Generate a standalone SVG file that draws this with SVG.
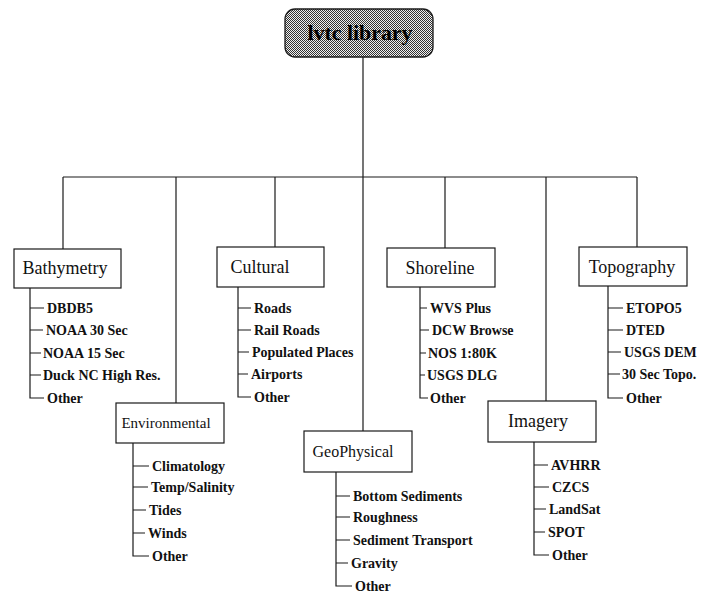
<svg xmlns="http://www.w3.org/2000/svg" width="701" height="593" viewBox="0 0 701 593">
<defs>
<pattern id="dots" x="0" y="0" width="2" height="2" patternUnits="userSpaceOnUse">
<rect width="2" height="2" fill="#f0f0f0"/>
<rect x="0" y="0" width="1" height="1" fill="#333"/>
<rect x="1" y="1" width="1" height="1" fill="#333"/>
</pattern>
</defs>
<style>
.ln{stroke:#1a1a1a;stroke-width:1.2;fill:none}
.box{fill:#fff;stroke:#1a1a1a;stroke-width:1.2}
.lbl{font-family:"Liberation Serif","Times New Roman",serif;font-size:18px;fill:#111;text-anchor:middle}
.it{font-family:"Liberation Serif","Times New Roman",serif;font-weight:bold;font-size:14px;fill:#111}
.ttl{font-family:"Liberation Serif","Times New Roman",serif;font-weight:bold;font-size:21px;fill:#000;text-anchor:middle}
</style>
<g id="connectors" class="ln">
<path d="M363 57V431"/>
<path d="M63 177H637"/>
<path d="M63 177V249"/>
<path d="M176 177V403"/>
<path d="M275 177V247"/>
<path d="M445 177V248"/>
<path d="M546 177V401"/>
<path d="M637 177V247"/>
<path d="M30 288V398H44M30 308H44M30 330H43M30 353H41M30 375H41"/>
<path d="M238 287V397H251M238 308H251M238 330H251M238 352H249M238 374H248"/>
<path d="M420 287V398H428M420 308H427M420 330H429M420 353H426M420 375H425"/>
<path d="M608 286V398H623M608 308H623M608 330H623M608 352H621M608 374H620"/>
<path d="M133 443V556H149M133 466H149M133 487H148M133 510H146M133 533H145"/>
<path d="M336 472V586H352M336 496H350M336 517H350M336 540H350M336 563H348"/>
<path d="M534 442V555H549M534 465H548M534 487H549M534 509H546M534 532H545"/>
</g>
<g id="root">
<rect x="285" y="9" width="148" height="48" rx="10" fill="url(#dots)" stroke="#1a1a1a" stroke-width="1.3"/>
<text class="ttl" x="360" y="40" textLength="105" lengthAdjust="spacingAndGlyphs">lvtc library</text>
</g>
<g id="bathymetry">
<rect class="box" x="14" y="249" width="107" height="39"/>
<text class="lbl" x="65" y="274">Bathymetry</text>
<text class="it" x="47" y="313">DBDB5</text>
<text class="it" x="46" y="335">NOAA 30 Sec</text>
<text class="it" x="43" y="358">NOAA 15 Sec</text>
<text class="it" x="43" y="380">Duck NC High Res.</text>
<text class="it" x="47" y="403">Other</text>
</g>
<g id="cultural">
<rect class="box" x="217" y="247" width="107" height="40"/>
<text class="lbl" x="260" y="273">Cultural</text>
<text class="it" x="254" y="313">Roads</text>
<text class="it" x="254" y="335">Rail Roads</text>
<text class="it" x="252" y="357">Populated Places</text>
<text class="it" x="251" y="379">Airports</text>
<text class="it" x="254" y="402">Other</text>
</g>
<g id="shoreline">
<rect class="box" x="387" y="248" width="108" height="39"/>
<text class="lbl" x="440" y="274">Shoreline</text>
<text class="it" x="430" y="313">WVS Plus</text>
<text class="it" x="432" y="335">DCW Browse</text>
<text class="it" x="428" y="358">NOS 1:80K</text>
<text class="it" x="427" y="380">USGS DLG</text>
<text class="it" x="430" y="403">Other</text>
</g>
<g id="topography">
<rect class="box" x="579" y="247" width="108" height="39"/>
<text class="lbl" x="632" y="273">Topography</text>
<text class="it" x="626" y="313">ETOPO5</text>
<text class="it" x="626" y="335">DTED</text>
<text class="it" x="624" y="357">USGS DEM</text>
<text class="it" x="622" y="379">30 Sec Topo.</text>
<text class="it" x="626" y="403">Other</text>
</g>
<g id="environmental">
<rect class="box" x="116" y="403" width="108" height="40"/>
<text class="lbl" x="166" y="428" style="font-size:15px">Environmental</text>
<text class="it" x="152" y="471">Climatology</text>
<text class="it" x="151" y="492">Temp/Salinity</text>
<text class="it" x="149" y="515">Tides</text>
<text class="it" x="148" y="538">Winds</text>
<text class="it" x="152" y="561">Other</text>
</g>
<g id="geophysical">
<rect class="box" x="304" y="431" width="108" height="41"/>
<text class="lbl" x="353" y="457" style="font-size:16px">GeoPhysical</text>
<text class="it" x="353" y="501">Bottom Sediments</text>
<text class="it" x="353" y="522">Roughness</text>
<text class="it" x="353" y="545">Sediment Transport</text>
<text class="it" x="351" y="568">Gravity</text>
<text class="it" x="355" y="591">Other</text>
</g>
<g id="imagery">
<rect class="box" x="488" y="401" width="108" height="41"/>
<text class="lbl" x="538" y="427">Imagery</text>
<text class="it" x="551" y="470">AVHRR</text>
<text class="it" x="552" y="492">CZCS</text>
<text class="it" x="549" y="514">LandSat</text>
<text class="it" x="548" y="537">SPOT</text>
<text class="it" x="552" y="560">Other</text>
</g>
</svg>
